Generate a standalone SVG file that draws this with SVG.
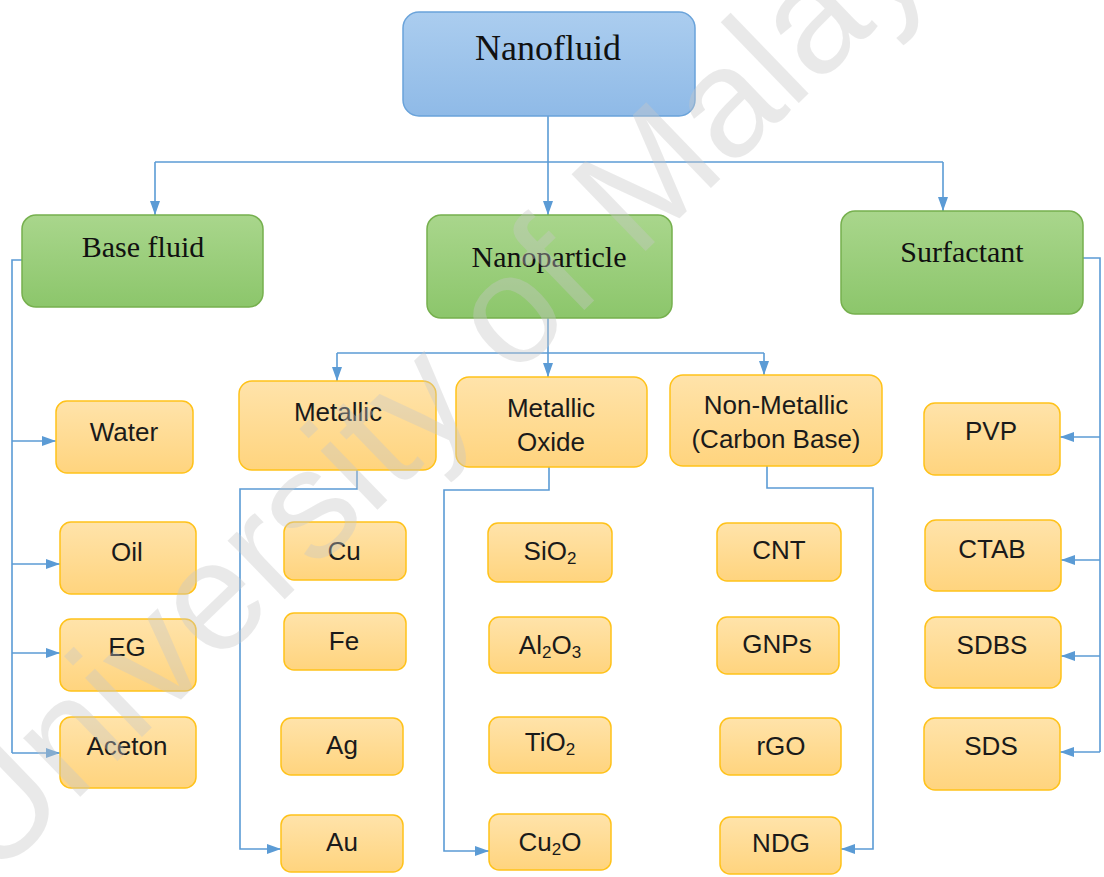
<svg xmlns="http://www.w3.org/2000/svg" width="1104" height="877" viewBox="0 0 1104 877">
<defs>
<linearGradient id="gO" x1="0" y1="0" x2="0" y2="1"><stop offset="0" stop-color="#FFE3AA"/><stop offset="1" stop-color="#FFD47E"/></linearGradient>
<linearGradient id="gG" x1="0" y1="0" x2="0" y2="1"><stop offset="0" stop-color="#A9D68C"/><stop offset="1" stop-color="#8CC66B"/></linearGradient>
<linearGradient id="gB" x1="0" y1="0" x2="0" y2="1"><stop offset="0" stop-color="#ABCDEF"/><stop offset="1" stop-color="#8FBAE7"/></linearGradient>
<marker id="ar" viewBox="0 0 14 10" markerWidth="14" markerHeight="10" refX="14" refY="5" orient="auto" markerUnits="userSpaceOnUse"><path d="M0,0 L14,5 L0,10 z" fill="#5B9BD5"/></marker>
<style>
.o{fill:url(#gO);stroke:#FFC21A;stroke-width:1.5}
.g{fill:url(#gG);stroke:#76B04E;stroke-width:1.5}
.b{fill:url(#gB);stroke:#6AA3DA;stroke-width:1.5}
.t{font-family:"Liberation Sans",Arial,sans-serif;font-size:26px;fill:#1a1a1a;text-anchor:middle}
.s{font-family:"Liberation Serif","Times New Roman",serif;font-size:30px;fill:#111;text-anchor:middle}
.big{font-size:36px}
.c{fill:none;stroke:#5B9BD5;stroke-width:1.6}
.sub{font-size:17px}
.wm{font-family:"Liberation Sans",Arial,sans-serif;font-size:155px;fill:#c8c8c8;opacity:0.38}
</style>
</defs>
<rect width="1104" height="877" fill="#ffffff"/>

<g id="connectors">
<path class="c" d="M548,116 V215" marker-end="url(#ar)"/>
<path class="c" d="M155,162 H943"/>
<path class="c" d="M155,162 V215" marker-end="url(#ar)"/>
<path class="c" d="M943,162 V211" marker-end="url(#ar)"/>
<path class="c" d="M22,260 H12 V753"/>
<path class="c" d="M12,441 H56" marker-end="url(#ar)"/>
<path class="c" d="M12,564 H60" marker-end="url(#ar)"/>
<path class="c" d="M12,653 H60" marker-end="url(#ar)"/>
<path class="c" d="M12,753 H60" marker-end="url(#ar)"/>
<path class="c" d="M548,318 V377" marker-end="url(#ar)"/>
<path class="c" d="M337,353 H764"/>
<path class="c" d="M337,353 V381" marker-end="url(#ar)"/>
<path class="c" d="M764,353 V375" marker-end="url(#ar)"/>
<path class="c" d="M357,470 V489 H240 V849 H281" marker-end="url(#ar)"/>
<path class="c" d="M549,467 V490 H444 V851 H489" marker-end="url(#ar)"/>
<path class="c" d="M767,466 V488 H873 V849 H841" marker-end="url(#ar)"/>
<path class="c" d="M1083,258 H1100 V752"/>
<path class="c" d="M1100,437 H1060" marker-end="url(#ar)"/>
<path class="c" d="M1100,560 H1061" marker-end="url(#ar)"/>
<path class="c" d="M1100,656 H1061" marker-end="url(#ar)"/>
<path class="c" d="M1100,752 H1060" marker-end="url(#ar)"/>
</g>

<g id="nanofluid"><rect class="b" x="403" y="12" width="292" height="104" rx="16"/><text class="s big" x="548" y="60">Nanofluid</text></g>
<g id="basefluid"><rect class="g" x="22" y="215" width="241" height="92" rx="14"/><text class="s" x="143" y="257">Base fluid</text></g>
<g id="nanoparticle"><rect class="g" x="427" y="215" width="245" height="103" rx="14"/><text class="s" x="549" y="267">Nanoparticle</text></g>
<g id="surfactant"><rect class="g" x="841" y="211" width="242" height="103" rx="14"/><text class="s" x="962" y="262">Surfactant</text></g>

<g id="water"><rect class="o" x="56" y="401" width="137" height="72" rx="11"/><text class="t" x="124" y="441">Water</text></g>
<g id="oil"><rect class="o" x="60" y="522" width="136" height="72" rx="11"/><text class="t" x="127" y="561">Oil</text></g>
<g id="eg"><rect class="o" x="60" y="619" width="136" height="72" rx="11"/><text class="t" x="127" y="656">EG</text></g>
<g id="aceton"><rect class="o" x="60" y="717" width="136" height="71" rx="11"/><text class="t" x="127" y="755">Aceton</text></g>

<g id="metallic"><rect class="o" x="239" y="381" width="197" height="89" rx="13"/><text class="t" x="338" y="421">Metallic</text></g>
<g id="metallicoxide"><rect class="o" x="456" y="377" width="191" height="90" rx="13"/><text class="t" x="551" y="417">Metallic</text><text class="t" x="551" y="451">Oxide</text></g>
<g id="nonmetallic"><rect class="o" x="670" y="375" width="212" height="91" rx="13"/><text class="t" x="776" y="414">Non-Metallic</text><text class="t" x="776" y="448">(Carbon Base)</text></g>

<g id="cu"><rect class="o" x="284" y="522" width="122" height="58" rx="10"/><text class="t" x="344" y="560">Cu</text></g>
<g id="fe"><rect class="o" x="284" y="613" width="122" height="57" rx="10"/><text class="t" x="344" y="650">Fe</text></g>
<g id="ag"><rect class="o" x="281" y="718" width="122" height="57" rx="10"/><text class="t" x="342" y="754">Ag</text></g>
<g id="au"><rect class="o" x="281" y="815" width="122" height="57" rx="10"/><text class="t" x="342" y="851">Au</text></g>

<g id="sio2"><rect class="o" x="488" y="523" width="124" height="59" rx="10"/><text class="t" x="550" y="560">SiO<tspan class="sub" dy="4">2</tspan></text></g>
<g id="al2o3"><rect class="o" x="489" y="617" width="122" height="56" rx="10"/><text class="t" x="550" y="654">Al<tspan class="sub" dy="4">2</tspan><tspan dy="-4">O</tspan><tspan class="sub" dy="4">3</tspan></text></g>
<g id="tio2"><rect class="o" x="489" y="717" width="122" height="56" rx="10"/><text class="t" x="550" y="751">TiO<tspan class="sub" dy="4">2</tspan></text></g>
<g id="cu2o"><rect class="o" x="489" y="814" width="122" height="56" rx="10"/><text class="t" x="550" y="851">Cu<tspan class="sub" dy="4">2</tspan><tspan dy="-4">O</tspan></text></g>

<g id="cnt"><rect class="o" x="717" y="523" width="124" height="58" rx="10"/><text class="t" x="779" y="559">CNT</text></g>
<g id="gnps"><rect class="o" x="717" y="617" width="122" height="57" rx="10"/><text class="t" x="777" y="653">GNPs</text></g>
<g id="rgo"><rect class="o" x="720" y="718" width="121" height="57" rx="10"/><text class="t" x="781" y="755">rGO</text></g>
<g id="ndg"><rect class="o" x="720" y="817" width="121" height="57" rx="10"/><text class="t" x="781" y="852">NDG</text></g>

<g id="pvp"><rect class="o" x="924" y="403" width="136" height="72" rx="11"/><text class="t" x="991" y="440">PVP</text></g>
<g id="ctab"><rect class="o" x="925" y="520" width="136" height="71" rx="11"/><text class="t" x="992" y="558">CTAB</text></g>
<g id="sdbs"><rect class="o" x="925" y="617" width="136" height="71" rx="11"/><text class="t" x="992" y="654">SDBS</text></g>
<g id="sds"><rect class="o" x="924" y="718" width="136" height="72" rx="11"/><text class="t" x="991" y="755">SDS</text></g>

<text class="wm" transform="translate(-8,882) rotate(-44)">University of Malaya</text>
</svg>
